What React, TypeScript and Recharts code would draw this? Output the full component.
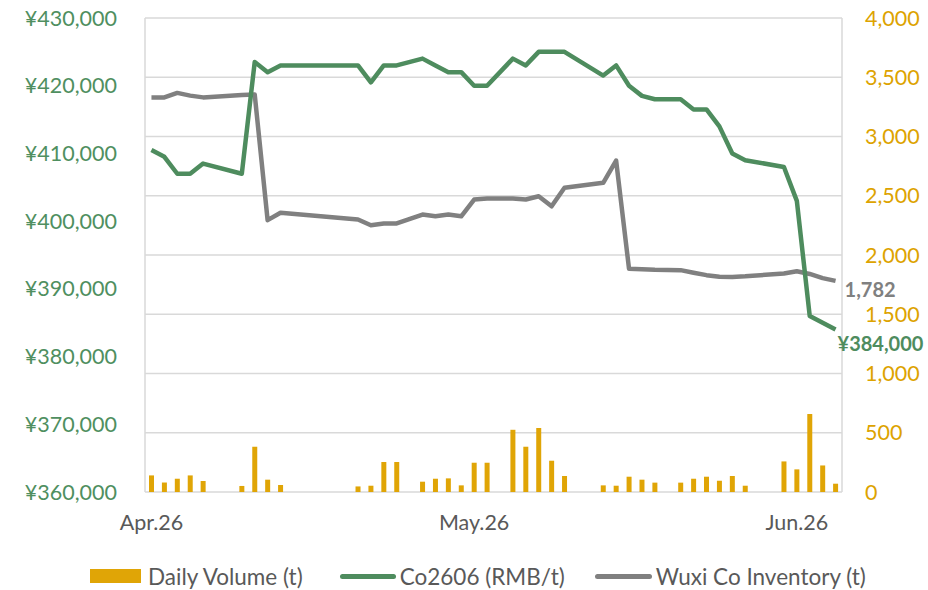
import React from 'react';
import { ComposedChart, Bar, Line, XAxis, YAxis, CartesianGrid, Legend } from 'recharts';

// 54 trading-day slots; null = no trading (weekend / holiday)
const slotCount = 54;
const monthLabels = ['Apr.26', 'May.26', 'Jun.26'];
const monthStartSlots = [0, 25, 50];

const dailyVolume = [
  140, 80, 112, 140, 93, null, null, 51, 382, 104,
  59, null, null, null, null, null, 47, 53, 253, 253,
  null, 87, 112, 115, 56, 247, 247, null, 525, 382,
  540, 264, 135, null, null, 56, 53, 129, 104, 79,
  null, 79, 112, 129, 95, 135, 53, null, null, 258,
  191, 658, 224, 70,
];

const co2606 = [
  410500, 409500, 407000, 407000, 408500, null, null, 407000, 423500, 422000,
  423000, null, null, null, null, null, 423000, 420500, 423000, 423000,
  null, 424000, 423000, 422000, 422000, 420000, 420000, null, 424000, 423000,
  425000, 425000, 425000, null, null, 421500, 423000, 420000, 418500, 418000,
  null, 418000, 416500, 416500, 414000, 410000, 409000, null, null, 408000,
  403000, 386000, 385000, 384000,
];

const wuxiInventory = [
  3330, 3330, 3368, 3345, 3330, null, null, 3350, 3355, 2294,
  2356, null, null, null, null, null, 2300, 2251, 2266, 2266,
  null, 2341, 2327, 2341, 2327, 2468, 2476, null, 2476, 2468,
  2496, 2411, 2567, null, null, 2609, 2797, 1884, 1880, 1875,
  null, 1872, 1850, 1830, 1816, 1815, 1820, null, null, 1844,
  1863, 1840, 1805, 1782,
];

const priceTicks = [360000, 370000, 380000, 390000, 400000, 410000, 420000, 430000];
const inventoryTicks = [0, 500, 1000, 1500, 2000, 2500, 3000, 3500, 4000];

const GREEN = '#4E8C5E';
const GREEN_TEXT = '#4F8F60';
const GOLD = '#E0A506';
const GOLD_TEXT = '#DDA300';
const GRAY = '#808080';
const GRID = '#D9D9D9';
const FONT = 'Lato, "Open Sans", sans-serif';
const FS = 21.5;
const END_FS = 20;

const data = dailyVolume.map((v, i) => ({
  slot: i + 0.5,
  volume: v,
  price: co2606[i],
  inventory: wuxiInventory[i],
}));

const labelSlots = monthStartSlots.map((s) => s + 0.5);
const lastIndex = slotCount - 1;

const fmtNum = (v: number) => v.toLocaleString('en-US');

const endLabel = (color: string, text: string, dx: number, dy: number) => (props: any) => {
  const { x, y, index } = props;
  if (index !== lastIndex) return <g />;
  return (
    <text x={x + dx} y={y + dy} fill={color} fontFamily={FONT} fontSize={END_FS} fontWeight={700} textAnchor="start" dominantBaseline="central">
      {text}
    </text>
  );
};

const LegendContent = () => (
  <div style={{ height: 28, width: 928, display: 'flex', alignItems: 'center', fontFamily: FONT, fontSize: 22.5, color: '#595959', paddingLeft: 90, boxSizing: 'border-box', whiteSpace: 'nowrap' }}>
    <span style={{ display: 'inline-block', width: 51, height: 14, background: GOLD, marginRight: 7 }} />
    <span style={{ marginRight: 37 }}>Daily Volume (t)</span>
    <span style={{ display: 'inline-block', width: 56, height: 5, borderRadius: 3, background: GREEN, marginRight: 4 }} />
    <span style={{ marginRight: 30 }}>Co2606 (RMB/t)</span>
    <span style={{ display: 'inline-block', width: 57, height: 5, borderRadius: 3, background: GRAY, marginRight: 4 }} />
    <span>Wuxi Co Inventory (t)</span>
  </div>
);

export default function App() {
  return (
    <div style={{ position: 'absolute', left: 0, top: 0, width: 928, height: 590, background: '#fff' }}>
      <ComposedChart width={928} height={590} data={data} margin={{ top: 18, right: 0, bottom: 0, left: 0 }}>
        <CartesianGrid yAxisId="right" stroke={GRID} strokeWidth={1.5} />
        <XAxis
          dataKey="slot"
          type="number"
          domain={[0, slotCount]}
          ticks={monthStartSlots}
          interval={0}
          height={0}
          tick={false}
          tickLine={false}
          axisLine={{ stroke: GRID, strokeWidth: 2 }}
          allowDataOverflow
        />
        <XAxis
          xAxisId="labels"
          dataKey="slot"
          type="number"
          domain={[0, slotCount]}
          ticks={labelSlots}
          tickFormatter={(v: number) => monthLabels[labelSlots.indexOf(v)] ?? ''}
          interval={0}
          height={70}
          tickLine={false}
          tickMargin={17}
          axisLine={false}
          tick={{ fill: '#595959', fontSize: FS, fontFamily: FONT }}
          allowDataOverflow
        />
        <YAxis
          yAxisId="left"
          orientation="left"
          width={145}
          domain={[360000, 430000]}
          ticks={priceTicks}
          tickFormatter={(v: number) => '¥' + fmtNum(v)}
          axisLine={false}
          tickLine={false}
          tickMargin={22}
          tick={{ fill: GREEN_TEXT, fontSize: FS, fontFamily: FONT }}
          interval={0}
        />
        <YAxis
          yAxisId="right"
          orientation="right"
          width={86}
          domain={[0, 4000]}
          ticks={inventoryTicks}
          tickFormatter={fmtNum}
          axisLine={false}
          tickLine={false}
          tickMargin={17}
          tick={{ fill: GOLD_TEXT, fontSize: FS, fontFamily: FONT, textAnchor: 'start' }}
          interval={0}
        />
        <Bar yAxisId="right" dataKey="volume" fill={GOLD} barSize={5} isAnimationActive={false} />
        <Line
          yAxisId="right"
          dataKey="inventory"
          stroke={GRAY}
          strokeWidth={4.5}
          dot={false}
          connectNulls
          strokeLinejoin="round"
          isAnimationActive={false}
          label={endLabel(GRAY, fmtNum(wuxiInventory[lastIndex] as number), 9, 8)}
        />
        <Line
          yAxisId="left"
          dataKey="price"
          stroke={GREEN}
          strokeWidth={4.5}
          dot={false}
          connectNulls
          strokeLinejoin="round"
          isAnimationActive={false}
          label={endLabel(GREEN, '¥' + fmtNum(co2606[lastIndex] as number), 2, 14)}
        />
        <Legend verticalAlign="bottom" content={() => <LegendContent />} wrapperStyle={{ left: 0, width: 928 }} />
      </ComposedChart>
    </div>
  );
}
